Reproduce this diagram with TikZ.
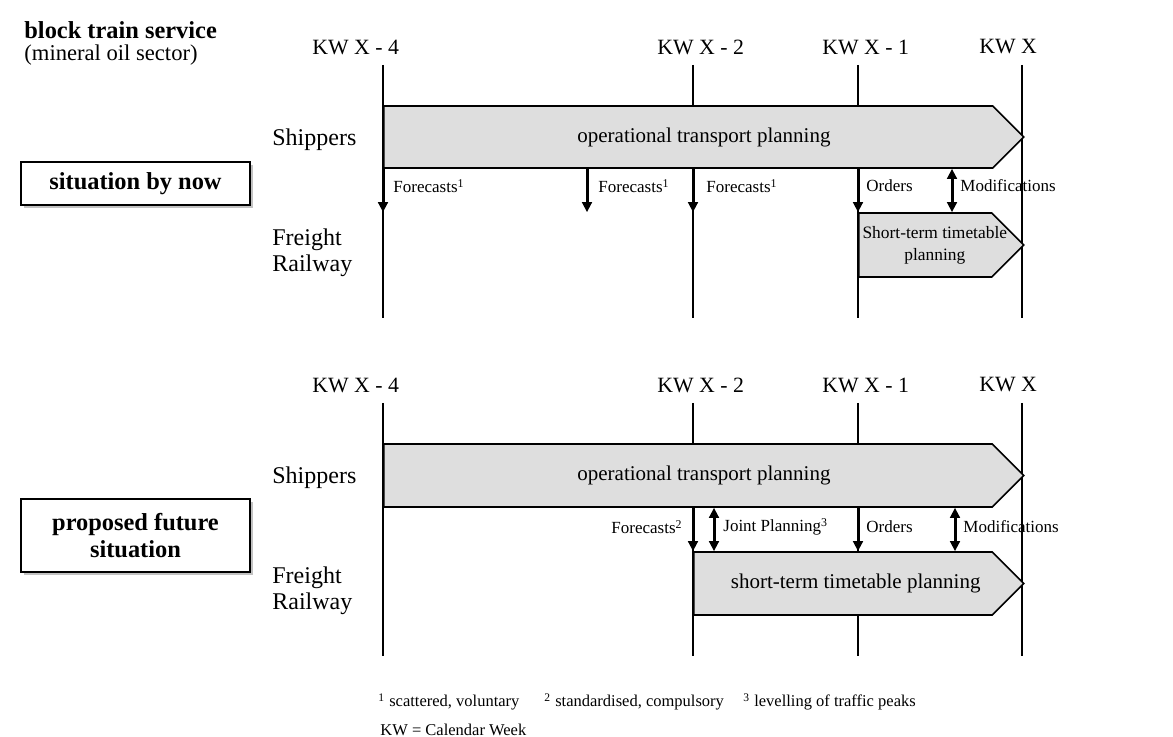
\documentclass[tikz,border=0pt]{standalone}
\usepackage{fontspec}
\setmainfont{Liberation Serif}
\usepackage{xcolor}
\usetikzlibrary{arrows.meta,calc,shapes.symbols,shadows}

\definecolor{plangray}{RGB}{222,222,222}

\begin{document}
\begin{tikzpicture}[
  x=0.5pt, y=-0.5pt,
  week/.style={line width=0.75pt},
  plan/.style={signal, signal to=east, signal pointer angle=90, draw, line width=0.8pt, fill=plangray, inner sep=0pt, anchor=west},
  planlbl/.style={inner sep=0pt, align=center, font=\fontsize{10.5}{12}\selectfont},
  actor/.style={anchor=west, align=left, inner sep=0pt, font=\fontsize{12}{13}\selectfont},
  kw/.style={anchor=west, inner sep=0pt, font=\fontsize{10.9}{12}\selectfont},
  lbl/.style={anchor=west, inner sep=0pt, font=\fontsize{8.5}{10}\selectfont},
  note/.style={anchor=west, inner sep=0pt, font=\fontsize{8.25}{10}\selectfont},
  situation/.style={draw, line width=1pt, fill=white, align=center, minimum width=114.5pt, font=\fontsize{12.2}{13.5}\selectfont\bfseries, drop shadow={shadow xshift=1.5pt, shadow yshift=-1.5pt, fill=black!40, opacity=0.6}},
  flow/.style={line width=1.5pt, -{Triangle[length=5pt,width=4.8pt]}},
  both/.style={line width=1.5pt, {Triangle[length=5pt,width=4.8pt]}-{Triangle[length=5pt,width=4.8pt]}}
]
  \useasboundingbox (0,0) rectangle (1173,737);

  % heading
  \node[anchor=west, inner sep=0pt, font=\fontsize{12.2}{14}\selectfont\bfseries] (title) at (24,30) {block train service};
  \node[anchor=west, inner sep=0pt, font=\fontsize{11.3}{13}\selectfont] (sector) at (24,55) {(mineral oil sector)};

  % calendar weeks: x positions and the two time lines
  \coordinate (wk4) at (383,0);
  \coordinate (wk2) at (693,0);
  \coordinate (wk1) at (858,0);
  \coordinate (wk0) at (1022,0);
  \coordinate (sp4) at (587,0);
  \coordinate (jp) at (714,0);
  \coordinate (mod1) at (952,0);
  \coordinate (mod2) at (955,0);
  \foreach \x in {383,693,858,1022}{
    \draw[week] (\x,65) -- (\x,318);
    \draw[week] (\x,403) -- (\x,656);
  }

  % ---- situation by now ----
  \node[kw] (kw4a) at (312,47) {KW X - 4};
  \node[kw] (kw2a) at (657,47) {KW X - 2};
  \node[kw] (kw1a) at (822,47) {KW X - 1};
  \node[kw] (kw0a) at (979,47) {KW X};

  \node[situation, minimum height=21.5pt] (now) at (135.5,183.5) {situation by now};
  \node[actor] (ship1) at (272,140) {Shippers};
  \node[actor] (rail1) at (272,253) {Freight\\Railway};

  \node[plan, minimum width=320pt, minimum height=31pt] (otp1) at (383,137) {};
  \node[planlbl] (otp1t) at ($(otp1.west)!0.5!(otp1.east)$) {operational transport planning};
  \node[plan, minimum width=82.5pt, minimum height=32pt] (stp1) at (858,245) {};
  \node[planlbl, font=\fontsize{8.7}{11}\selectfont] (stp1t) at ($(stp1.west)!0.46!(stp1.east)$) {Short-term timetable\\planning};

  \draw[flow] (otp1.south -| wk4) -- (stp1.north -| wk4);
  \draw[flow] (otp1.south -| sp4) -- (stp1.north -| sp4);
  \draw[flow] (otp1.south -| wk2) -- (stp1.north -| wk2);
  \draw[flow] (otp1.south -| wk1) -- (stp1.north -| wk1);
  \draw[both] (otp1.south -| mod1) -- (stp1.north -| mod1);
  \node[lbl] (fc1) at (393,186) {Forecasts\textsuperscript{1}};
  \node[lbl] (fc2) at (598,186) {Forecasts\textsuperscript{1}};
  \node[lbl] (fc3) at (706,186) {Forecasts\textsuperscript{1}};
  \node[lbl] (ord1) at (866,186) {Orders};
  \node[lbl] (mdf1) at (960,186) {Modifications};

  % ---- proposed future situation ----
  \node[kw] (kw4b) at (312,385) {KW X - 4};
  \node[kw] (kw2b) at (657,385) {KW X - 2};
  \node[kw] (kw1b) at (822,385) {KW X - 1};
  \node[kw] (kw0b) at (979,385) {KW X};

  \node[situation, minimum height=36.5pt] (future) at (135.5,535.5) {proposed future\\situation};
  \node[actor] (ship2) at (272,478) {Shippers};
  \node[actor] (rail2) at (272,591) {Freight\\Railway};

  \node[plan, minimum width=320pt, minimum height=31.5pt] (otp2) at (383,475.5) {};
  \node[planlbl] (otp2t) at ($(otp2.west)!0.5!(otp2.east)$) {operational transport planning};
  \node[plan, minimum width=165pt, minimum height=31.5pt] (stp2) at (693,583.5) {};
  \node[planlbl] (stp2t) at ($(stp2.west)!0.49!(stp2.east)$) {short-term timetable planning};

  \draw[flow] (otp2.south -| wk2) -- (stp2.north -| wk2);
  \draw[both] (otp2.south -| jp) -- (stp2.north -| jp);
  \draw[flow] (otp2.south -| wk1) -- (stp2.north -| wk1);
  \draw[both] (otp2.south -| mod2) -- (stp2.north -| mod2);
  \node[lbl, anchor=east] (fc4) at (683,527) {Forecasts\textsuperscript{2}};
  \node[lbl] (jpl) at (723,527) {Joint Planning\textsuperscript{3}};
  \node[lbl] (ord2) at (866,527) {Orders};
  \node[lbl] (mdf2) at (963,527) {Modifications};

  % footnotes
  \node[note] (fn1) at (378,702) {\textsuperscript{1} scattered, voluntary};
  \node[note] (fn2) at (544,702) {\textsuperscript{2} standardised, compulsory};
  \node[note] (fn3) at (743,702) {\textsuperscript{3} levelling of traffic peaks};
  \node[note] (kwnote) at (380,730) {KW = Calendar Week};
\end{tikzpicture}
\end{document}
